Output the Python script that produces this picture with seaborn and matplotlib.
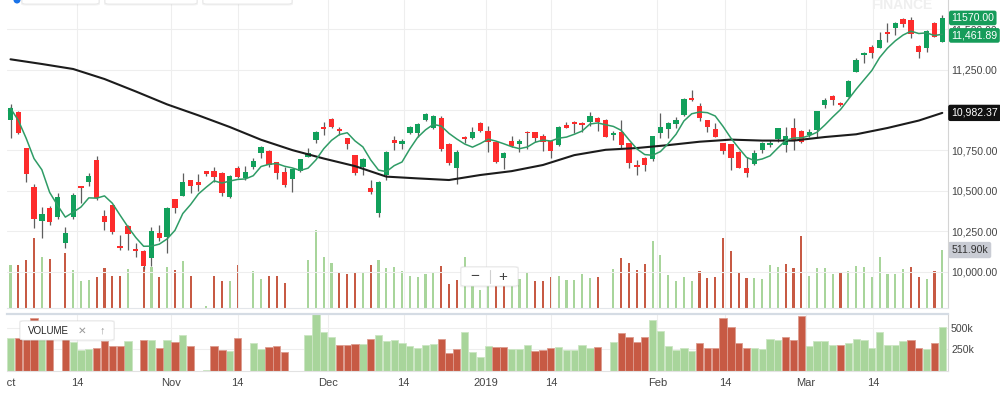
import numpy as np
import pandas as pd
import matplotlib
matplotlib.use("Agg")
import matplotlib.pyplot as plt
import matplotlib.transforms as mtransforms
from matplotlib.patches import FancyBboxPatch, Ellipse
import seaborn as sns

sns.set_style("white")
plt.rcParams['font.family'] = ['Liberation Sans', 'DejaVu Sans']

# ---------------- data ----------------
opens = [10938, 10988, 10763, 10522, 10315, 10395, 10336, 10175, 10336, 10530,
         10554, 10691, 10344, 10410, 10158, 10284, 10138, 10129, 10082, 10242,
         10216, 10447, 10468, 10567, 10556, 10621, 10621, 10612, 10460, 10643,
         10577, 10649, 10736, 10748, 10676, 10618, 10575, 10624, 10711, 10814,
         10897, 10942, 10882, 10825, 10721, 10649, 10515, 10361, 10598, 10814,
         10790, 10860, 10860, 10938, 10887, 10949, 10790, 10639, 10835, 10825,
         10921, 10872, 10804, 10701, 10810, 10790, 10866, 10862, 10841, 10808,
         10783, 10905, 10928, 10918, 10926, 10952, 10938, 10845, 10864, 10794,
         10658, 10705, 10695, 10856, 10881, 10913, 10969, 11073, 11027, 10938,
         10882, 10794, 10788, 10742, 10641, 10664, 10752, 10782, 10819, 10782,
         10887, 10870, 10845, 10876, 11031, 11087, 11045, 11082, 11237, 11341,
         11392, 11386, 11481, 11506, 11561, 11557, 11398, 11382, 11537, 11423]
highs = [11037, 10994, 10768, 10540, 10402, 10406, 10484, 10278, 10488, 10532,
         10608, 10715, 10381, 10412, 10226, 10286, 10177, 10135, 10278, 10288,
         10398, 10450, 10608, 10570, 10604, 10624, 10649, 10615, 10595, 10655,
         10655, 10701, 10779, 10752, 10680, 10645, 10636, 10698, 10763, 10870,
         10924, 10949, 10897, 10828, 10724, 10701, 10567, 10559, 10745, 10839,
         10819, 10903, 10921, 10983, 10972, 10963, 10793, 10752, 10838, 10893,
         10928, 10901, 10807, 10742, 10839, 10819, 10872, 10865, 10852, 10811,
         10901, 10928, 10932, 10928, 10990, 10955, 10944, 10870, 10938, 10797,
         10691, 10708, 10842, 10983, 10928, 10959, 11076, 11124, 11042, 10941,
         10918, 10797, 10791, 10745, 10712, 10752, 10804, 10814, 10890, 10893,
         10949, 10876, 10881, 10997, 11073, 11093, 11051, 11186, 11320, 11361,
         11402, 11485, 11537, 11547, 11568, 11578, 11401, 11494, 11547, 11588]
lows = [10829, 10852, 10556, 10270, 10206, 10288, 10324, 10144, 10324, 10423,
        10532, 10443, 10257, 10233, 10134, 10134, 10092, 10016, 10034, 10189,
        10113, 10361, 10466, 10484, 10499, 10592, 10556, 10468, 10455, 10582,
        10567, 10635, 10701, 10649, 10573, 10522, 10494, 10618, 10707, 10794,
        10845, 10887, 10845, 10759, 10598, 10598, 10480, 10340, 10567, 10752,
        10757, 10852, 10835, 10934, 10883, 10748, 10657, 10542, 10794, 10822,
        10864, 10742, 10670, 10633, 10769, 10742, 10757, 10804, 10748, 10701,
        10780, 10887, 10856, 10866, 10901, 10872, 10831, 10814, 10763, 10639,
        10598, 10624, 10684, 10825, 10825, 10891, 10966, 11058, 10934, 10866,
        10832, 10728, 10629, 10639, 10588, 10658, 10732, 10769, 10804, 10742,
        10752, 10794, 10835, 10835, 11011, 11031, 11025, 11079, 11234, 11289,
        11320, 11383, 11423, 11464, 11516, 11444, 11320, 11361, 11451, 11420]
closes = [11011, 10860, 10604, 10324, 10354, 10309, 10463, 10237, 10474, 10517,
          10592, 10454, 10307, 10247, 10144, 10231, 10127, 10036, 10251, 10206,
          10392, 10392, 10556, 10530, 10534, 10602, 10587, 10488, 10592, 10584,
          10618, 10686, 10773, 10660, 10608, 10534, 10633, 10695, 10732, 10862,
          10881, 10893, 10872, 10790, 10608, 10697, 10491, 10556, 10742, 10794,
          10810, 10897, 10913, 10973, 10963, 10759, 10670, 10738, 10819, 10866,
          10870, 10804, 10680, 10736, 10777, 10808, 10856, 10825, 10804, 10748,
          10895, 10891, 10912, 10905, 10965, 10928, 10835, 10860, 10783, 10670,
          10649, 10660, 10839, 10897, 10918, 10938, 11070, 11062, 10952, 10897,
          10835, 10748, 10701, 10643, 10608, 10736, 10798, 10798, 10887, 10839,
          10814, 10800, 10866, 10994, 11062, 11062, 11031, 11180, 11310, 11351,
          11351, 11433, 11470, 11537, 11531, 11469, 11361, 11491, 11454, 11570]
volumes_k = [379, 379, 423, 617, 453, 429, 0, 488, 335, 241,
             250, 270, 350, 285, 285, 344, 0, 359, 359, 270,
             365, 335, 415, 285, 0, 15, 285, 241, 235, 379,
             0, 329, 256, 279, 285, 223, 0, 0, 420, 690,
             453, 400, 306, 300, 309, 315, 376, 420, 350, 365,
             329, 285, 270, 300, 309, 373, 212, 250, 450, 220,
             160, 294, 280, 280, 255, 255, 306, 235, 240, 272,
             284, 247, 247, 297, 262, 276, 0, 341, 441, 400,
             335, 391, 594, 467, 291, 241, 270, 235, 326, 262,
             270, 617, 506, 320, 262, 262, 256, 376, 365, 391,
             356, 638, 285, 350, 350, 300, 306, 326, 370, 365,
             270, 450, 300, 300, 344, 365, 270, 256, 329, 511.9]
volume_dir = list("grrrgrgrgg" "grrrrggrgr" "grgrggrrgr" "gggrrrgggg"
                  "ggrrrgrggg" "gggggrrrgg" "ggrrgggrrr" "gggggrggrr"
                  "rrggggggrr" "rrrrrggggr" "rrggggrggg" "gggggrrgrg")
ma50_idx = [0, 4, 8, 12, 16, 20, 24, 28, 32, 36, 40, 44, 48, 52, 56, 60,
            64, 68, 72, 76, 80, 84, 88, 92, 96, 100, 104, 108, 112, 116, 119]
ma50_vals = [11314, 11285, 11254, 11192, 11115, 11035, 10967, 10895, 10816,
             10752, 10700, 10653, 10588, 10577, 10567, 10598, 10622, 10660,
             10721, 10754, 10765, 10783, 10804, 10817, 10811, 10811, 10833,
             10850, 10889, 10935, 10982.37]
date_tick_pos = [8.53, 20.5, 29.0, 40.6, 50.2, 60.7, 69.0, 82.6, 91.25, 101.6, 110.2]
date_tick_labels = ["14", "Nov", "14", "Dec", "14", "2019", "14", "Feb", "14", "Mar", "14"]
first_month_pos = -0.38
first_month_label = "Oct"
price_ticks = [10000, 10250, 10500, 10750, 11000, 11250, 11500]
vol_ticks = [250, 500]
last_close_label = "11570.00"
ma5_label_value = 11461.89
ma5_label = "11,461.89"
ma50_label = "10,982.37"
last_vol_label = "511.90k"

# ---------------- styling ----------------
G_CANDLE = '#11a05b'
R_CANDLE = '#fd2c2c'
G_VOL = '#a8d59b'
R_VOL = '#c75a44'
GRID = '#eeeeee'
TXT = '#444444'

n = len(closes)
idx = np.arange(n)
df = pd.DataFrame({'i': idx, 'open': opens, 'high': highs, 'low': lows,
                   'close': closes, 'vol': volumes_k, 'vdir': volume_dir})
df['ma5'] = df['close'].rolling(5, min_periods=1).mean()
ma50 = pd.DataFrame({'i': ma50_idx, 'v': ma50_vals})

W, H = 1000, 398
fig = plt.figure(figsize=(W / 100, H / 100), dpi=100)
fig.patch.set_facecolor('white')


def fx(x):
    return x / W


def fy(y):
    return 1 - y / H


XL = (-0.45, 119.73)
ax = fig.add_axes([fx(7), fy(308), (948 - 7) / W, 308 / H])
axv = ax.twinx()
axl = fig.add_axes([fx(7), fy(371), (948 - 7) / W, (371 - 314) / H])

# upper (thin) volume bars
sns.barplot(data=df, x='i', y='vol', hue='vdir', palette={'g': G_VOL, 'r': R_VOL},
            native_scale=True, width=0.27, dodge=False, saturation=1,
            errorbar=None, legend=False, ax=axv, linewidth=0)
axv.set_ylim(0, 2720)
axv.set_yticks([])
axv.set_ylabel('')
axv.set_xlabel('')
for s in axv.spines.values():
    s.set_visible(False)

ax.set_zorder(axv.get_zorder() + 1)
ax.patch.set_visible(False)

# candles
o = df['open'].to_numpy()
c = df['close'].to_numpy()
up = c >= o
ax.vlines(df['i'], df['low'], df['high'], color='#5e5e5e', lw=0.9, zorder=3)
ax.bar(df['i'], np.maximum(np.abs(c - o), 7), bottom=np.minimum(o, c), width=0.68,
       color=np.where(up, G_CANDLE, R_CANDLE), linewidth=0, zorder=4)

# moving averages
sns.lineplot(data=ma50, x='i', y='v', ax=ax, color='#1c1c1c', lw=1.5, zorder=5)
sns.lineplot(data=df, x='i', y='ma5', ax=ax, color='#2f9c66', lw=1.1, zorder=6)

ax.set_xlim(*XL)
axv.set_xlim(*XL)
ax.set_ylim(9775, 11681)
ax.set_xlabel('')
ax.set_ylabel('')
ax.yaxis.tick_right()
ax.set_yticks(price_ticks)
ax.set_yticklabels([f"{p:,.2f}" for p in price_ticks])
ax.set_xticks(date_tick_pos)
ax.tick_params(axis='x', labelbottom=False, length=0)
ax.tick_params(axis='y', length=0, pad=2.2, labelsize=7.6, labelcolor=TXT)
ax.grid(True, color=GRID, lw=0.8)
ax.set_axisbelow(True)
for k in ('top', 'left'):
    ax.spines[k].set_visible(False)
ax.spines['bottom'].set_color('#e3e6ea')
ax.spines['bottom'].set_linewidth(0.8)
ax.spines['right'].set_color('#d4d4d4')
ax.spines['right'].set_linewidth(0.8)

# price tags
tr = mtransforms.offset_copy(mtransforms.blended_transform_factory(ax.transAxes, ax.transData),
                             fig=fig, x=2.4, y=0, units='points')
tag_kw = dict(ha='left', va='center', fontsize=7.6, transform=tr, clip_on=False, zorder=10)
box_style = 'round,pad=0.22,rounding_size=0.2'
ax.text(1.0, closes[-1], last_close_label, color='white',
        bbox=dict(boxstyle=box_style, fc='#169c5a', ec='none'), **tag_kw)
ax.text(1.0, ma5_label_value, ma5_label, color='white',
        bbox=dict(boxstyle=box_style, fc='#169c5a', ec='none'), **tag_kw)
ax.text(1.0, ma50_vals[-1], ma50_label, color='white',
        bbox=dict(boxstyle='round,pad=0.3,rounding_size=0.2', fc='#111111', ec='none'), **tag_kw)
trv = mtransforms.offset_copy(mtransforms.blended_transform_factory(axv.transAxes, axv.transData),
                              fig=fig, x=2.4, y=0, units='points')
axv.text(1.0, volumes_k[-1], last_vol_label, color='#333333', ha='left', va='center',
         fontsize=7.6, transform=trv, clip_on=False, zorder=10,
         bbox=dict(boxstyle='round,pad=0.3,rounding_size=0.2', fc='#c9ccd4', ec='none'))

# lower volume panel
sns.barplot(data=df, x='i', y='vol', hue='vdir', palette={'g': G_VOL, 'r': R_VOL},
            native_scale=True, width=0.93, dodge=False, saturation=1,
            errorbar=None, legend=False, ax=axl, linewidth=0.6)
for p in axl.patches:
    fc = np.array(p.get_facecolor())
    p.set_edgecolor(tuple(fc[:3] * 0.6 + 0.4) + (1.0,))
axl.set_xlim(*XL)
axl.set_ylim(0, 661)
axl.set_xlabel('')
axl.set_ylabel('')
axl.yaxis.tick_right()
axl.set_yticks(vol_ticks)
axl.set_yticklabels([f"{v}k" for v in vol_ticks])
axl.set_xticks(date_tick_pos)
axl.set_xticklabels(date_tick_labels)
axl.tick_params(axis='x', length=0, pad=5, labelsize=8, labelcolor=TXT)
axl.tick_params(axis='y', length=0, pad=2.2, labelsize=7.6, labelcolor=TXT)
axl.grid(True, color=GRID, lw=0.8)
axl.set_axisbelow(True)
axl.spines['left'].set_visible(False)
axl.spines['top'].set_color('#d5dce4')
axl.spines['top'].set_linewidth(1.6)
axl.spines['bottom'].set_color('#e2e2e2')
axl.spines['bottom'].set_linewidth(0.8)
axl.spines['right'].set_color('#d4d4d4')
axl.spines['right'].set_linewidth(0.8)

oct_txt = axl.text(first_month_pos, -(383.5 - 371) / 57, first_month_label, ha='center', va='center',
                   fontsize=8, color=TXT,
                   transform=mtransforms.blended_transform_factory(axl.transData, axl.transAxes))
oct_txt.set_clip_box(mtransforms.TransformedBbox(mtransforms.Bbox([[fx(7), 0], [1, 1]]), fig.transFigure))
oct_txt.set_clip_on(True)


# ---------------- overlay UI elements ----------------
def ui_box(x0, y0, x1, y1, z=20):
    sh = FancyBboxPatch((fx(x0) - 0.001, fy(y1 + 1.5)), (x1 - x0) / W + 0.002, (y1 - y0 + 2.5) / H,
                        boxstyle='round,pad=0,rounding_size=0.004', transform=fig.transFigure,
                        fc='#000000', ec='none', alpha=0.05, zorder=z)
    bx = FancyBboxPatch((fx(x0), fy(y1)), (x1 - x0) / W, (y1 - y0) / H,
                        boxstyle='round,pad=0,rounding_size=0.004', transform=fig.transFigure,
                        fc='white', ec='#e6e6e6', lw=0.6, zorder=z + 0.1)
    fig.add_artist(sh)
    fig.add_artist(bx)


for (a, b) in [(22, 99), (105, 197), (203, 292)]:
    ui_box(a, -10, b, 4)
fig.add_artist(Ellipse((fx(17), fy(0)), 7 / W, 7 / H, transform=fig.transFigure,
                       fc='#1a73e8', ec='none', zorder=21))
fig.text(fx(902), fy(5), "FINANCE", ha='center', va='center', fontsize=10,
         fontweight='bold', color='#efefef', zorder=1)

# zoom control
ui_box(461, 267, 518, 286)
fig.text(fx(475), fy(276.5), "\u2212", ha='center', va='center', fontsize=11, color='#444444', zorder=25)
fig.text(fx(503), fy(276.5), "+", ha='center', va='center', fontsize=11, color='#444444', zorder=25)
fig.add_artist(plt.Line2D([fx(490), fx(490)], [fy(270), fy(283)], transform=fig.transFigure,
                          color='#d0d0d0', lw=0.8, zorder=25))

# volume legend box
ui_box(20, 321, 114, 340)
fig.text(fx(28), fy(330.5), "VOLUME", ha='left', va='center', fontsize=7, color='#222222', zorder=25)
fig.text(fx(82), fy(330.5), "\u2715", ha='center', va='center', fontsize=7.5, color='#9a9a9a', zorder=25)
fig.text(fx(102), fy(330.5), "\u2191", ha='center', va='center', fontsize=8, color='#9a9a9a', zorder=25)

fig.savefig("out.png", dpi=100, facecolor='white')
